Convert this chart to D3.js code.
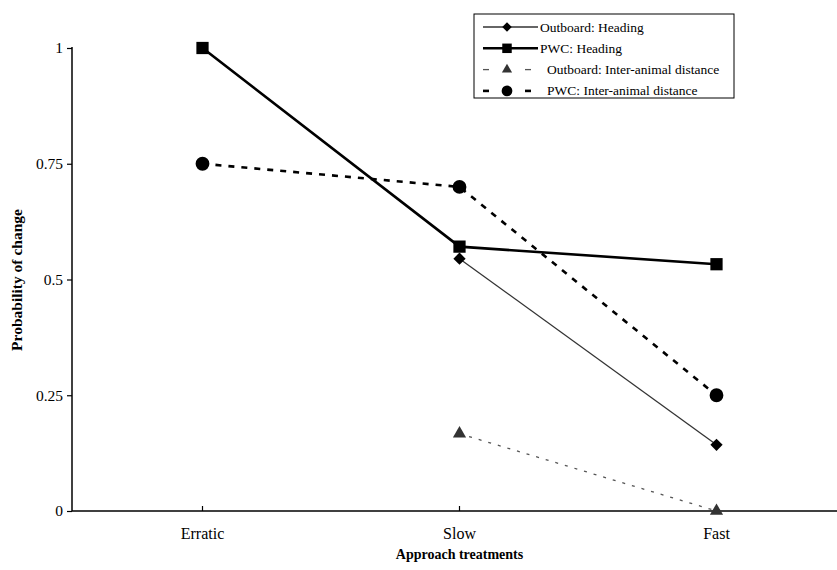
<!DOCTYPE html>
<html><head><meta charset="utf-8">
<script src="https://cdn.jsdelivr.net/npm/d3@7"></script>
<style>body{margin:0;background:#fff}svg{display:block}text{font-family:"Liberation Serif","DejaVu Serif",serif;fill:#000}</style>
</head><body><svg id="c" width="837" height="570"></svg>
<script>
const categories = ["Erratic", "Slow", "Fast"];
const outboardHeading = [null, 0.545, 0.143];
const pwcHeading = [1, 0.571, 0.533];
const outboardDistance = [null, 0.167, 0];
const pwcDistance = [0.75, 0.7, 0.25];
const yTicks = [0, 0.25, 0.5, 0.75, 1];
const yTickLabels = ["0", "0.25", "0.5", "0.75", "1"];
const seriesNames = ["Outboard: Heading", "PWC: Heading", "Outboard: Inter-animal distance", "PWC: Inter-animal distance"];

const svg = d3.select("#c");
const x = d3.scaleBand().domain(categories).range([74, 845]);
const cx = c => x(c) + x.bandwidth() / 2;
const y = d3.scaleLinear().domain([0, 1]).range([511, 48]);

const series = [
  {name: seriesNames[0], vals: outboardHeading, color: "#333", width: 1.3, dash: null, marker: "diamond", size: 75},
  {name: seriesNames[1], vals: pwcHeading, color: "#000", width: 2.6, dash: null, marker: "square", size: 150},
  {name: seriesNames[2], vals: outboardDistance, color: "#555", width: 1.3, dash: "3,7", marker: "triangle", size: 75},
  {name: seriesNames[3], vals: pwcDistance, color: "#000", width: 2.6, dash: "6,7", marker: "circle", size: 150}
];
const sym = {diamond: d3.symbolSquare, square: d3.symbolSquare, triangle: d3.symbolTriangle, circle: d3.symbolCircle};
const rot = m => m === "diamond" ? " rotate(45)" : "";

// axes
const yAxis = d3.axisLeft(y).tickValues(yTicks).tickFormat((d, i) => yTickLabels[i]).tickSize(5).tickPadding(4);
const gy = svg.append("g").attr("transform", "translate(72,0)").call(yAxis);
gy.select(".domain").attr("stroke", "#000").attr("stroke-width", 1.5).attr("d", "M0,47V511");
gy.selectAll(".tick line").attr("stroke", "#000").attr("stroke-width", 1.2);
gy.selectAll(".tick text").style("font-size", "15.5px").attr("fill", "#000").style("font-family", '"Liberation Serif",serif');

const xAxis = d3.axisBottom(x).tickSize(0).tickPadding(17);
const gx = svg.append("g").attr("transform", "translate(0,511)").call(xAxis);
gx.select(".domain").attr("stroke", "#000").attr("stroke-width", 1.5).attr("d", "M72,0H837");
gx.selectAll(".tick text").style("font-size", "16px").attr("fill", "#000").style("font-family", '"Liberation Serif",serif');
gx.selectAll(".tick").append("line").attr("y1", 0).attr("y2", -5).attr("stroke", "#000").attr("stroke-width", 1.2);

svg.append("text").attr("x", cx("Slow")).attr("y", 559).attr("text-anchor", "middle")
  .style("font-size", "14px").style("font-weight", "bold").text("Approach treatments");
svg.append("text").attr("transform", "translate(22,280) rotate(-90)").attr("text-anchor", "middle")
  .style("font-size", "15.5px").style("font-weight", "bold").text("Probability of change");

// lines
const line = d3.line().defined(d => d.v != null).x(d => cx(d.c)).y(d => y(d.v));
series.forEach(s => {
  const pts = categories.map((c, i) => ({c, v: s.vals[i]}));
  svg.append("path").datum(pts).attr("d", line).attr("fill", "none")
    .attr("stroke", s.color).attr("stroke-width", s.width).attr("stroke-dasharray", s.dash);
});
series.forEach(s => {
  const pts = categories.map((c, i) => ({c, v: s.vals[i]})).filter(d => d.v != null);
  svg.selectAll(null).data(pts).enter().append("path")
    .attr("d", d3.symbol().type(sym[s.marker]).size(s.size))
    .attr("transform", d => `translate(${cx(d.c)},${y(d.v)})${rot(s.marker)}`)
    .attr("fill", s.marker === "triangle" ? "#333" : "#000");
});

// legend
const lg = svg.append("g");
lg.append("rect").attr("x", 474).attr("y", 14).attr("width", 260).attr("height", 84)
  .attr("fill", "#fff").attr("stroke", "#000").attr("stroke-width", 1);
series.forEach((s, i) => {
  const yy = 27 + i * 21.3;
  const dashed = !!s.dash;
  if (dashed) {
    lg.append("line").attr("x1", 483).attr("x2", 489).attr("y1", yy).attr("y2", yy).attr("stroke", s.color).attr("stroke-width", s.width);
    lg.append("line").attr("x1", 525).attr("x2", 531).attr("y1", yy).attr("y2", yy).attr("stroke", s.color).attr("stroke-width", s.width);
  } else {
    lg.append("line").attr("x1", 483).attr("x2", 538).attr("y1", yy).attr("y2", yy).attr("stroke", s.color).attr("stroke-width", s.width);
  }
  lg.append("path").attr("d", d3.symbol().type(sym[s.marker]).size(s.size * 0.6))
    .attr("transform", `translate(507,${yy})${rot(s.marker)}`).attr("fill", s.marker === "triangle" ? "#333" : "#000");
  lg.append("text").attr("x", dashed ? 547 : 540).attr("y", yy + 4.5).style("font-size", "13.5px").text(s.name);
});
</script></body></html>
